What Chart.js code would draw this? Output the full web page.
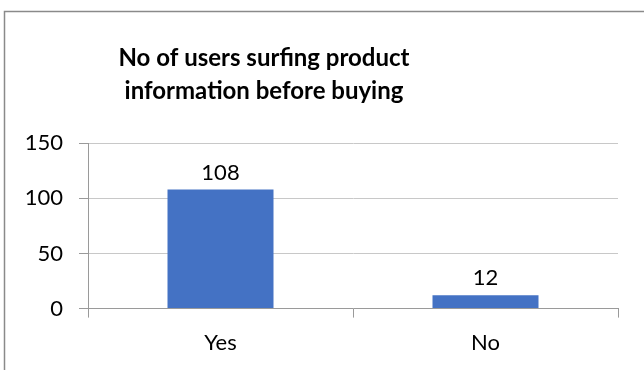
<!DOCTYPE html>
<html>
<head>
<meta charset="utf-8">
<script src="https://cdn.jsdelivr.net/npm/chart.js@4"></script>
<style>
  html, body { margin: 0; padding: 0; background: #fff; }
  #wrap { width: 644px; height: 370px; }
</style>
</head>
<body>
<div id="wrap"><canvas id="grafica"></canvas></div>
<script>
const categorias = ['Yes', 'No'];
const usuarios = [108, 12];
const ticksY = [0, 50, 100, 150];
const titulo = ['No of users surfing product', 'information before buying'];

const FUENTE = "Lato, 'Open Sans', sans-serif";

// marco gris del gráfico (izquierda y arriba)
const marco = {
  id: 'marco',
  beforeDraw(chart) {
    const ctx = chart.ctx;
    ctx.save();
    ctx.strokeStyle = '#8a8a8a';
    ctx.lineWidth = 1.5;
    ctx.beginPath();
    ctx.moveTo(4.5, 370);
    ctx.lineTo(4.5, 11.5);
    ctx.lineTo(644, 11.5);
    ctx.stroke();
    ctx.restore();
  },
  afterLayout(chart) {
    // el título va algo a la izquierda del centro
    const t = chart.titleBlock;
    if (t) { t.left = 4; t.right = 524; }
  }
};

// etiquetas con el valor encima de cada barra
const etiquetas = {
  id: 'etiquetas',
  afterDatasetsDraw(chart) {
    const ctx = chart.ctx;
    const meta = chart.getDatasetMeta(0);
    ctx.save();
    ctx.font = '22px ' + FUENTE;
    ctx.fillStyle = '#000';
    ctx.textAlign = 'center';
    ctx.textBaseline = 'middle';
    meta.data.forEach((bar, i) => {
      ctx.fillText(String(usuarios[i]), bar.x, bar.y - 17);
    });
    ctx.restore();
  }
};

const ctx1 = document.getElementById('grafica').getContext('2d');
const chart1 = new Chart(ctx1, {
  type: 'bar',
  data: {
    labels: categorias,
    datasets: [{
      data: usuarios,
      backgroundColor: '#4472C4',
      barPercentage: 0.4,
      categoryPercentage: 1
    }]
  },
  options: {
    responsive: true,
    maintainAspectRatio: false,
    animation: false,
    layout: { padding: { left: 10, right: 26, top: 0, bottom: 2 } },
    plugins: {
      legend: { display: false },
      tooltip: { enabled: false },
      title: {
        display: true,
        text: titulo,
        color: '#000',
        font: { family: FUENTE, size: 24, weight: 'bold', lineHeight: 1.4 },
        padding: { top: 41, bottom: 35 }
      }
    },
    scales: {
      x: {
        grid: { drawOnChartArea: false, drawTicks: true, tickLength: 9, color: '#9a9a9a', offset: true },
        border: { color: '#9a9a9a' },
        ticks: { color: '#000', font: { family: FUENTE, size: 22 }, padding: 12 }
      },
      y: {
        min: 0,
        max: 150,
        afterBuildTicks(scale) {
          scale.ticks = ticksY.map(v => ({ value: v }));
        },
        afterFit(scale) { scale.width = 78; },
        grid: { color: '#c8c8c8', tickLength: 9, tickColor: '#9a9a9a' },
        border: { color: '#9a9a9a' },
        ticks: { color: '#000', font: { family: FUENTE, size: 22 }, padding: 16 }
      }
    }
  },
  plugins: [marco, etiquetas]
});
</script>
</body>
</html>
